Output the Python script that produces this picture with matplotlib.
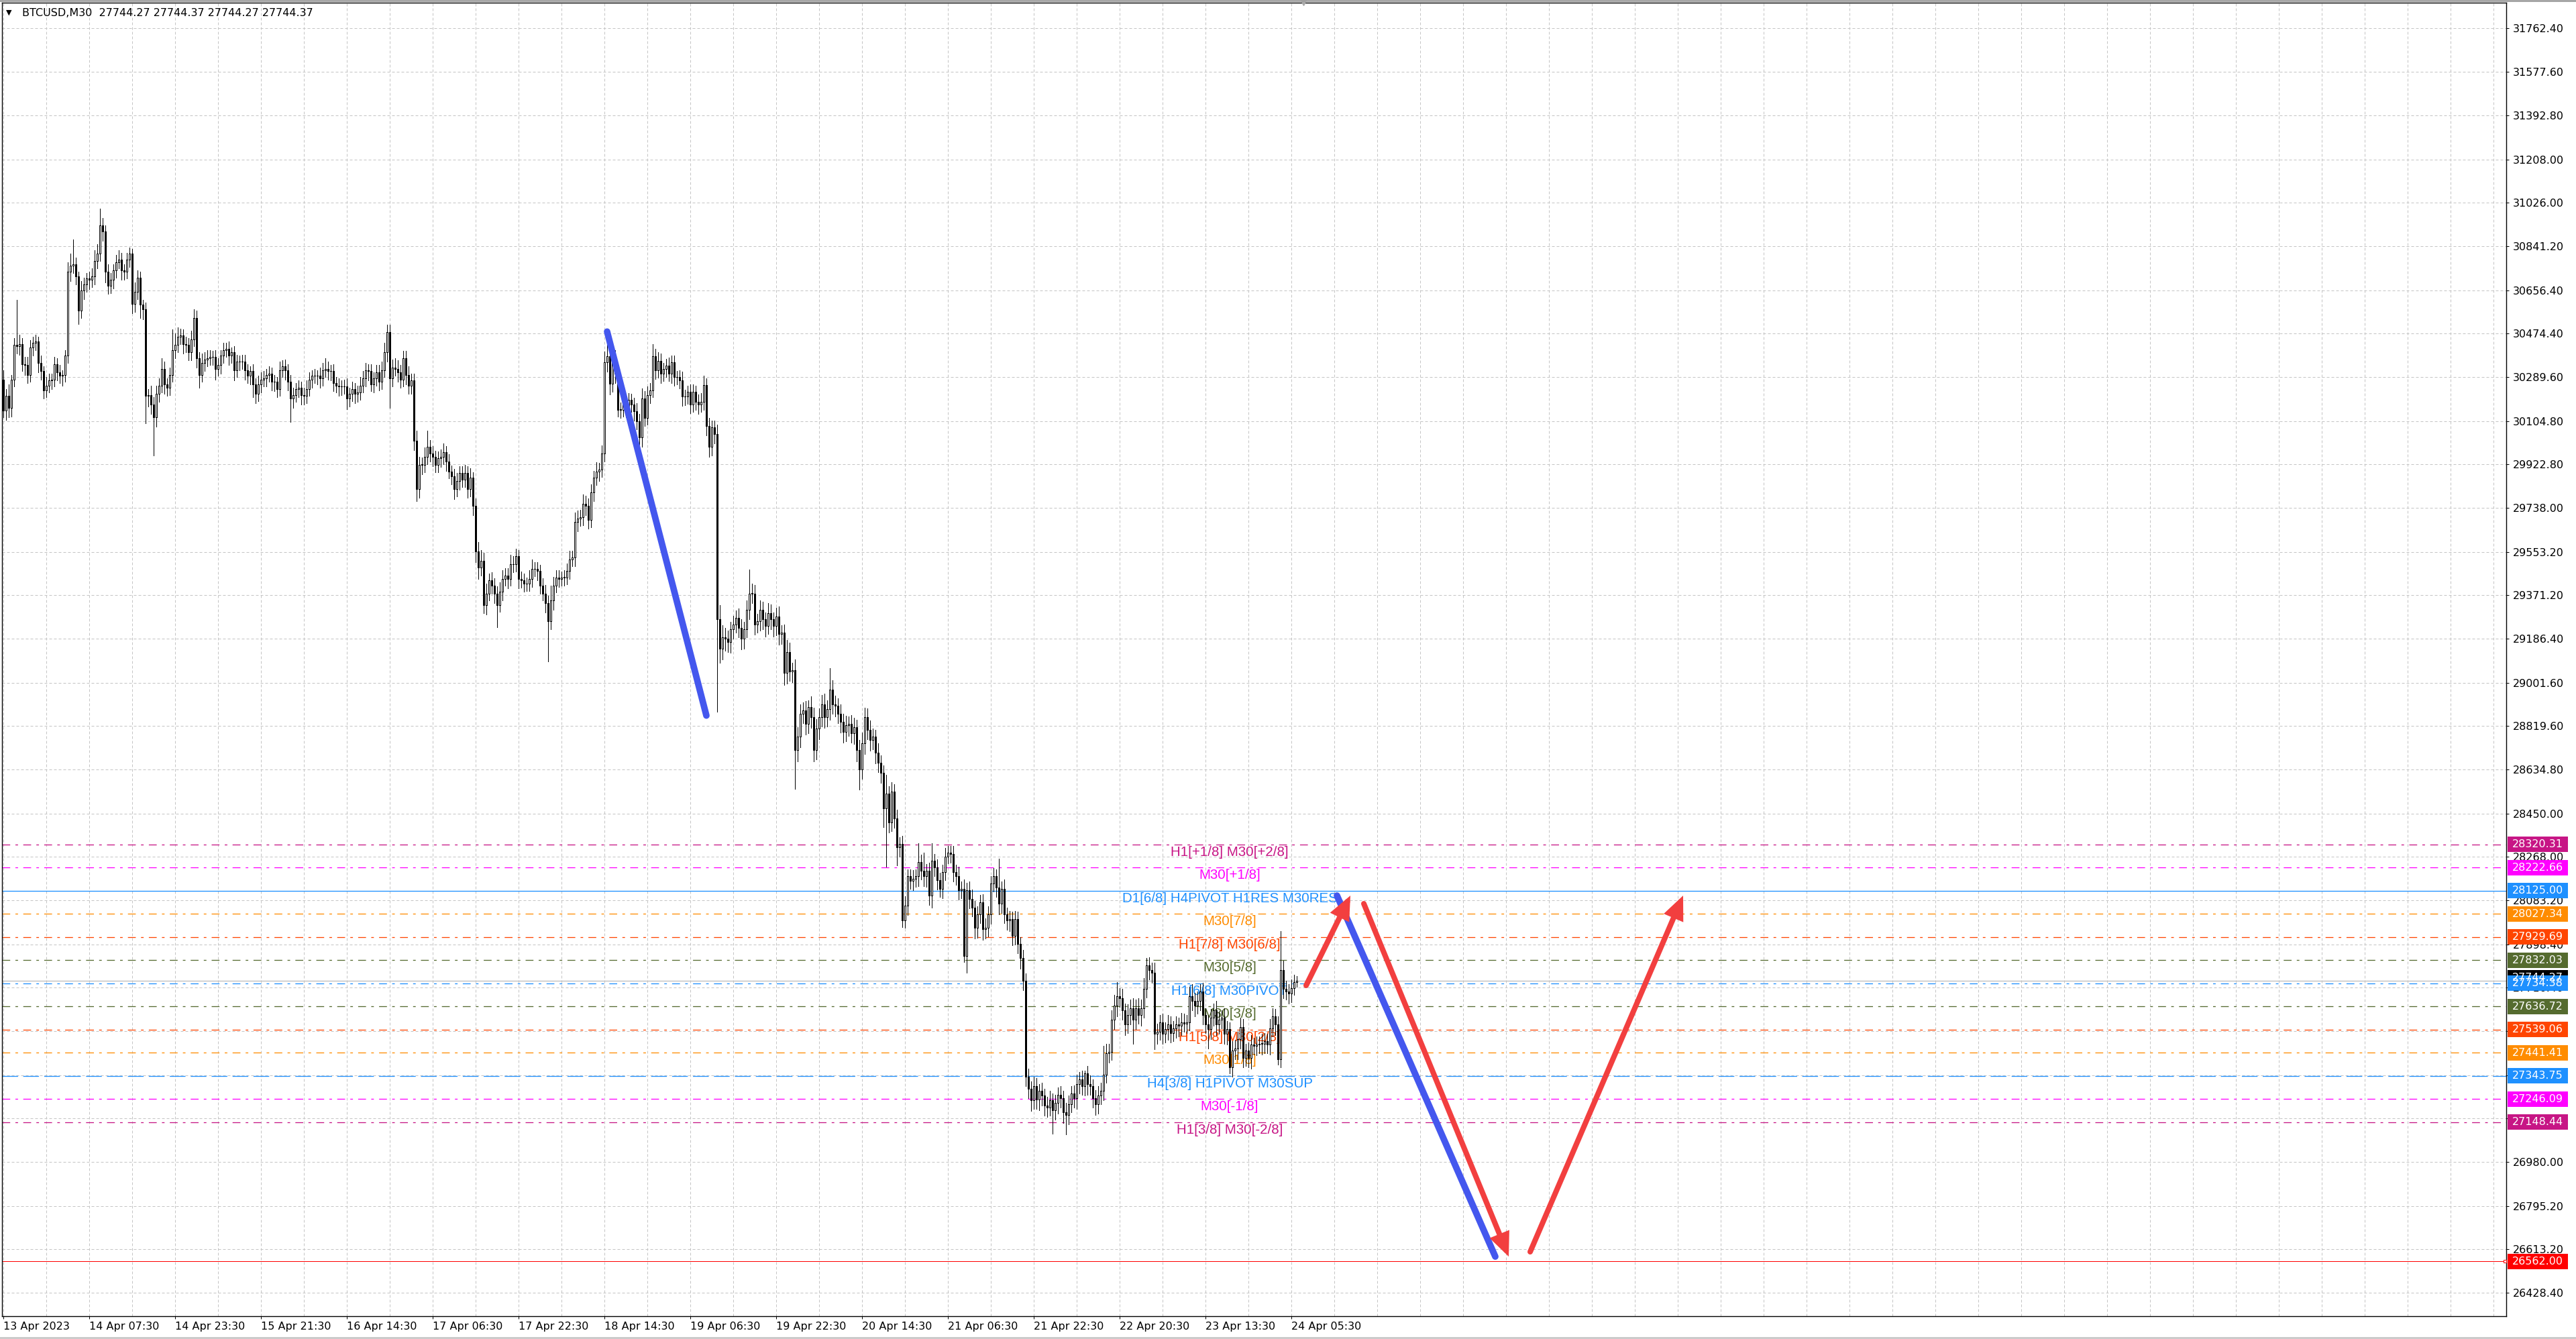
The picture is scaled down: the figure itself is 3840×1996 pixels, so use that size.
import numpy as np
import matplotlib.pyplot as plt
import matplotlib.transforms as mtransforms
from matplotlib.patches import Rectangle, FancyArrowPatch
from matplotlib.lines import Line2D

plt.rcParams['font.family'] = ['DejaVu Sans']

#%% data - BTCUSD M30 candles (closes + wick sizes)
first_open = 30280

closes_a = [30150,30210,30160,30280,30425,30420,30430,30345,30340,30300,
            30415,30435,30440,30350,30315,30235,30255,30275,30280,30345,
            30310,30295,30300,30380,30735,30760,30765,30715,30570,30655,
            30680,30705,30700,30715,30780,30810,30930,30905,30735,30675,
            30700,30740,30775,30785,30740,30735,30785,30810,30600,30650,
            30710,30595,30575,30210,30215,30175,30120,30220,30255,30325,
            30260,30245,30300,30405,30425,30460,30465,30430,30425,30395,
            30450,30540,30370,30300,30350,30365,30370,30375,30375,30325,
            30340,30380,30405,30410,30380,30395,30320,30355,30355,30355,
            30320,30295,30315,30260,30220,30260,30280,30285,30300,30305,
            30270,30270,30240,30320,30335,30320,30270,30200,30215,30240,
            30245,30215,30210,30240,30280,30295,30295,30295,30285,30320,
            30325,30315,30315,30265,30255,30250,30250,30250,30200,30220,
            30240,30220,30225,30255,30285,30320,30315,30260,30285,30310,
            30270,30320,30395,30480,30285,30330,30325,30310,30280,30370,
            30300,30255,30275]
up_a = [40,30,50,20,30,190,40,25,30,35, 30,25,30,20,30,20,35,30,25,30,
        25,30,20,25,40,50,105,30,20,40, 30,25,30,35,45,40,70,30,25,30,
        30,25,30,40,30,25,30,25,20,40, 30,25,20,30,25,40,30,35,30,45,
        30,25,30,85,50,40,30,25,30,30, 35,35,30,25,40,30,35,30,25,30,
        30,25,30,25,30,20,25,30,25,30, 30,25,20,30,25,35,30,30,25,30,
        25,30,20,35,25,30,25,30,30,25, 30,25,30,35,30,25,30,25,35,30,
        45,30,25,30,25,30,25,30,35,25, 30,25,30,35,30,30,25,30,25,30,
        30,35,40,30,30,35,40,35,30,30, 30,35,30]
dn_a = [30,40,40,35,30,30,35,30,40,35, 30,35,30,40,35,35,30,30,35,30,
        35,30,40,30,30,40,30,35,55,30, 35,30,40,30,35,30,30,40,45,35,
        30,35,30,25,40,35,30,30,40,35, 30,55,40,115,45,40,160,40,35,30,
        40,35,30,30,35,30,30,40,30,35, 35,30,40,55,30,35,30,30,35,45,
        30,35,30,30,40,30,45,30,35,30, 40,30,35,55,40,30,35,30,35,30,
        35,40,35,30,30,40,35,100,40,30, 35,40,35,30,30,35,30,35,40,30,
        30,35,40,35,30,40,35,30,45,35, 30,40,35,30,30,35,40,30,35,30,
        35,30,30,40,125,35,30,40,35,30, 40,35,35]

closes_b = [30023,29817,29920,29920,29954,29995,29968,29954,29920,29947,
            29954,29975,29934,29892,29872,29817,29851,29885,29858,29885,
            29817,29865,29748,29556,29488,29515,29330,29378,29433,29412,
            29378,29330,29385,29440,29453,29440,29501,29501,29536,29440,
            29433,29419,29419,29440,29481,29481,29474,29412,29378,29337,
            29261,29350,29412,29446,29440,29446,29446,29474,29522,29529,
            29680,29693,29700,29755,29748,29687,29803,29865,29892,29899,
            29968,30352,30379,30263,30373,30304,30153,30153,30187,30160,
            30194,30174,30146,30105,30036,30201,30119,30215,30235,30379,
            30318,30359,30304,30325,30338,30304,30352,30290,30290,30277,
            30208,30208,30229,30174,30229,30187,30174,30187,30256,30084,
            29995,30078,30050,29268,29145,29193,29186,29172,29227,29248,
            29275,29234,29186,29227,29309,29378,29378,29248,29261,29309,
            29268,29241,29296,29268,29241,29282,29206,29213,29042,29131,
            29049,29055,28719,28774,28870,28884,28829,28898,28857,28719,
            28808,28857,28911,28857,28891,28973,28911,28905,28870,28836,
            28795,28822,28829,28788,28815,28719,28637,28747,28857,28802,
            28761,28774,28706,28665,28623]
up_b = [30,40,35,30,40,70,30,30,25,30, 30,35,25,30,25,30,35,30,30,35,
        30,40,25,30,40,45,35,40,30,35, 30,30,40,35,30,30,40,35,30,25,
        30,30,25,35,40,30,30,25,30,35, 30,60,35,30,30,25,30,30,35,30,
        40,35,30,40,35,30,35,30,40,30, 35,45,100,30,40,30,35,30,30,25,
        30,25,30,35,30,40,30,35,30,50, 30,35,30,25,30,35,30,30,25,30,
        35,30,25,30,30,25,30,35,40,30, 35,30,30,40,60,50,40,35,30,35,
        30,40,35,30,40,100,40,35,30,40, 35,30,40,35,30,35,40,30,35,50,
        40,30,45,40,40,35,40,30,45,40, 40,35,40,45,35,90,40,35,30,40,
        35,40,30,35,40,30,40,45,40,35, 40,35,30,40,30]
dn_b = [40,50,35,40,30,30,35,40,30,30, 35,30,40,30,35,40,30,35,30,30,
        35,30,40,45,50,35,35,40,30,35, 40,95,30,35,30,40,30,35,30,40,
        30,35,30,30,35,30,40,35,30,40, 170,35,40,30,35,30,35,30,35,30,
        35,40,30,35,40,35,30,35,30,40, 30,35,40,45,35,40,30,35,30,40,
        35,30,40,35,30,40,35,30,35,30, 35,30,40,30,35,30,40,35,30,35,
        40,35,30,35,30,35,40,30,35,40, 40,35,40,390,60,45,50,40,45,40,
        35,40,45,40,35,40,40,45,35,40, 40,45,35,40,45,40,45,40,50,45,
        40,45,165,50,45,40,45,40,45,50, 40,45,40,45,40,45,40,45,40,45,
        45,40,45,40,45,50,85,40,45,40, 45,40,45,40,45]

closes_c = [28472,28534,28411,28543,28430,28307,28321,27998,28062,28185,
            28166,28176,28185,28246,28208,28185,28208,28104,28250,28222,
            28170,28133,28203,28269,28284,28279,28203,28185,28128,28133,
            27850,28128,28090,28052,27967,28024,28076,27963,27967,28024,
            28156,28185,28137,28071,28133,28024,28000,28005,27934,28005,
            27900,27840,27745,27340]
up_c = [30,80,30,40,30,35,30,35,40,30, 30,35,30,80,30,76,30,35,76,30,
        35,30,30,35,28,30,35,30,40,30, 40,30,35,40,30,35,30,35,40,35,
        30,35,30,123,30,40,30,35,30,35, 30,30,35,30]
dn_c = [80,245,40,35,40,75,40,26,30,40, 35,40,35,40,35,40,45,40,50,35,
        40,35,40,35,30,35,40,35,40,35, 25,70,40,35,45,40,35,45,40,35,
        40,35,40,45,40,35,40,45,40,35, 40,45,40,40]

closes_d = [27290,27240,27300,27245,27280,27260,27220,27210,27240,27200,
            27230,27265,27250,27190,27180,27225,27270,27250,27310,27330,
            27300,27355,27310,27300,27250,27225,27260,27280,27350,27440,
            27445,27580,27640,27680,27670,27620,27560,27600,27630,27580,
            27630,27600,27630,27710,27810,27790,27780,27520,27530,27570,
            27520,27540,27560,27525,27545,27560,27555,27570,27565,27570,
            27680,27660,27640,27660,27700,
            27600,27560,27540,27590,27620,27560,27580,27590,27520,27540,
            27380,27450,27460,27500,27550,27420,27450,27420,27475,27470,
            27475,27480,27480,27490,27475,27545,27595,27560,27415,27790,
            27710,27700,27690,27715,27740,27744.37]
up_d = [35,30,40,35,30,35,30,35,40,30, 35,30,35,30,40,35,30,35,40,30,
        35,10,30,35,30,35,40,35,120,40, 35,40,45,60,35,40,30,45,35,40,
        35,40,35,45,30,35,30,40,35,30, 35,30,40,35,30,35,30,40,35,30,
        40,50,35,40,30,
        35,30,40,35,30,40,35,30,40,35, 30,40,35,30,40,35,30,35,40,30,
        35,30,40,35,30,40,35,30,35,164, 40,35,30,35,30,20]
dn_d = [40,45,35,40,45,40,45,40,35,100, 40,45,40,45,83,40,35,40,45,40,
        35,40,45,35,40,45,40,35,40,35, 40,35,40,45,35,40,45,35,40,100,
        40,35,45,40,35,40,45,65,40,35, 40,35,45,40,35,40,45,40,35,40,
        35,40,45,35,40,
        40,35,80,40,35,45,40,35,40,45, 26,40,35,45,40,40,35,40,45,35,
        40,35,45,40,35,40,35,45,23,35, 40,35,40,35,30,20]

# time axis labels (one every 32 bars)
date_labels = ['13 Apr 2023', '14 Apr 07:30', '14 Apr 23:30', '15 Apr 21:30',
               '16 Apr 14:30', '17 Apr 06:30', '17 Apr 22:30', '18 Apr 14:30',
               '19 Apr 06:30', '19 Apr 22:30', '20 Apr 14:30', '21 Apr 06:30',
               '21 Apr 22:30', '22 Apr 20:30', '23 Apr 13:30', '24 Apr 05:30']
bars_per_label = 32

price_ticks = [31762.40, 31577.60, 31392.80, 31208.00, 31026.00, 30841.20,
               30656.40, 30474.40, 30289.60, 30104.80, 29922.80, 29738.00,
               29553.20, 29371.20, 29186.40, 29001.60, 28819.60, 28634.80,
               28450.00, 28268.00, 28083.20, 27898.40, 27716.40, 27531.60,
               27346.80, 27164.80, 26980.00, 26795.20, 26613.20, 26428.40]

# Murrey math levels
level_prices = [28320.31, 28222.66, 28125.00, 28027.34, 27929.69, 27832.03,
                27734.38, 27636.72, 27539.06, 27441.41, 27343.75, 27246.09,
                27148.44]
level_names = ['H1[+1/8] M30[+2/8]', 'M30[+1/8]', 'D1[6/8] H4PIVOT H1RES M30RES',
               'M30[7/8]', 'H1[7/8] M30[6/8]', 'M30[5/8]', 'H1[6/8] M30PIVOT',
               'M30[3/8]', 'H1[5/8] M30[2/8]', 'M30[1/8]', 'H4[3/8] H1PIVOT M30SUP',
               'M30[-1/8]', 'H1[3/8] M30[-2/8]']
level_colors = ['#C71585', '#FF00FF', '#1E90FF', '#FF8C00', '#FF4500', '#556B2F',
                '#1E90FF', '#556B2F', '#FF4500', '#FF8C00', '#1E90FF', '#FF00FF',
                '#C71585']
level_kinds = ['dashdot', 'dashdot', 'solid', 'dashdot', 'dashdot', 'dashdot',
               'dashdot', 'dashdot', 'dashdot', 'dashdot', 'dash', 'dashdot',
               'dashdot']

last_price = 27744.37
bid_label = 27744.27
target_price = 26562.00

# drawn trend lines: (bar0, price0, bar1, price1)
blue_lines = [(225, 30482, 262, 28863), (497, 28104, 556, 26582)]
red_arrows = [(485.5, 27725, 502, 28104), (507, 28070, 561, 26582),
              (569, 26602, 626, 28104)]

#%% derived OHLC
c = np.array(closes_a + closes_b + closes_c + closes_d, dtype=float)
o = np.concatenate([[first_open], c[:-1]])
hi = np.maximum(o, c) + np.array(up_a + up_b + up_c + up_d)
lo = np.minimum(o, c) - np.array(dn_a + dn_b + dn_c + dn_d)
idx = np.arange(len(c))

#%% figure
W, H = 3840, 1996
PX = 0.72  # one pixel in points (dpi 100)
L, T, R, B = 3, 4, 3736, 1962
fig = plt.figure(figsize=(W / 100, H / 100), dpi=100)
ax = fig.add_axes([L / W, 1 - B / H, (R - L) / W, (B - T) / H])
ax.set_xlim(-0.5, -0.5 + (R - L) / 4)
ymin, ymax = 26330.6, 31868.8
ax.set_ylim(ymin, ymax)
ppp = (ymax - ymin) / (B - T)  # price per pixel

# grid
for p in price_ticks:
    ax.axhline(p, color='#C4C4C4', lw=PX, ls=(0, (4, 3)), zorder=0)
for b in range(0, int((R - L) / 4), 16):
    ax.axvline(b, color='#C4C4C4', lw=PX, ls=(0, (4, 3)), zorder=0)

# levels
styles = {'dashdot': (0, (9, 6, 3, 6)), 'solid': '-', 'dash': (0, (18, 6))}
label_bar = 457
for p, name, col, kind in zip(level_prices, level_names, level_colors, level_kinds):
    ax.axhline(p, color=col, lw=PX * 1.3, ls=styles[kind], zorder=1)
    ax.text(label_bar, p - 2 * ppp, name, color=col, ha='center', va='top',
            fontsize=14.75, family=['Liberation Sans', 'DejaVu Sans'], zorder=1.5)

ax.axhline(last_price, color='#C0C0C0', lw=PX * 1.4, zorder=1)
ax.axhline(target_price, color='red', lw=PX, zorder=1)

# candles
ax.vlines(idx, lo, hi, color='black', lw=PX, zorder=3, antialiased=False)
bull = c >= o
ax.bar(idx[bull], np.maximum(c - o, 0.5 * ppp)[bull], bottom=o[bull], width=0.45,
       facecolor='white', edgecolor='black', linewidth=PX, zorder=4,
       antialiased=False)
ax.bar(idx[~bull], (o - c)[~bull], bottom=c[~bull], width=0.45,
       facecolor='black', edgecolor='black', linewidth=PX, zorder=4,
       antialiased=False)

# drawn objects
for x0, y0, x1, y1 in blue_lines:
    ax.plot([x0, x1], [y0, y1], color='#4457EE', lw=7.0, solid_capstyle='round', zorder=6)
for x0, y0, x1, y1 in red_arrows:
    arr = FancyArrowPatch((x0, y0), (x1, y1), arrowstyle='-|>,head_length=1.6,head_width=0.7',
                          mutation_scale=10, lw=5.8, color='#F23F3F', shrinkA=0, shrinkB=0,
                          capstyle='round', joinstyle='miter', zorder=7)
    ax.add_patch(arr)

# right price scale
ax.yaxis.tick_right()
ax.set_yticks(price_ticks)
ax.set_yticklabels([f'{p:.2f}' for p in price_ticks])
ax.tick_params(axis='y', direction='out', length=3, width=PX, pad=4, labelsize=11.5)
ax.set_xticks(np.arange(len(date_labels)) * bars_per_label)
ax.set_xticklabels(date_labels, ha='left')
ax.tick_params(axis='x', direction='out', length=3, width=PX, pad=3, labelsize=11.5)
for s in ax.spines.values():
    s.set_linewidth(PX * 1.4)
    s.set_color('black')

blend = mtransforms.blended_transform_factory(ax.transAxes, ax.transData)
box_w = 90 / (R - L)
box_x = 1 + 2 / (R - L)
half = 11.5 * ppp


def price_box(p, face, value, shift=0.0):
    ax.add_patch(Rectangle((box_x, p - half + shift), box_w, 2 * half, transform=blend,
                           facecolor=face, edgecolor='none', clip_on=False, zorder=8))
    ax.text(box_x + 7 / (R - L), p + shift, f'{value:.2f}', transform=blend, color='white',
            fontsize=11.5, va='center', ha='left', clip_on=False, zorder=9)


price_box(bid_label, 'black', bid_label, shift=5 * ppp)
for p, col in zip(level_prices, level_colors):
    price_box(p, col, p)
price_box(target_price, 'red', target_price)

ax.plot([1 - 2 / (R - L)], [target_price], transform=blend, marker='s', ms=3.5,
        mfc='white', mec='red', mew=PX, clip_on=False, zorder=9)
ax.plot([len(c) + 1.5], [1 + 2 / (B - T)], transform=ax.get_xaxis_transform(),
        marker='v', ms=8, color='#A8A8A8', clip_on=False, zorder=9)

# header
fig.text(9 / W, 1 - 19 / H, '▼', fontsize=8, va='center', ha='left')
fig.text(33 / W, 1 - 19 / H, 'BTCUSD,M30  27744.27 27744.37 27744.27 27744.37',
         fontsize=11.5, va='center', ha='left')
fig.add_artist(Line2D([0, 1], [1 - 1 / H, 1 - 1 / H], color='#A0A0A0', lw=2))
fig.add_artist(Line2D([0, 1], [2 / H, 2 / H], color='#C8C8C8', lw=2))

fig.savefig('out.png', dpi=100)
